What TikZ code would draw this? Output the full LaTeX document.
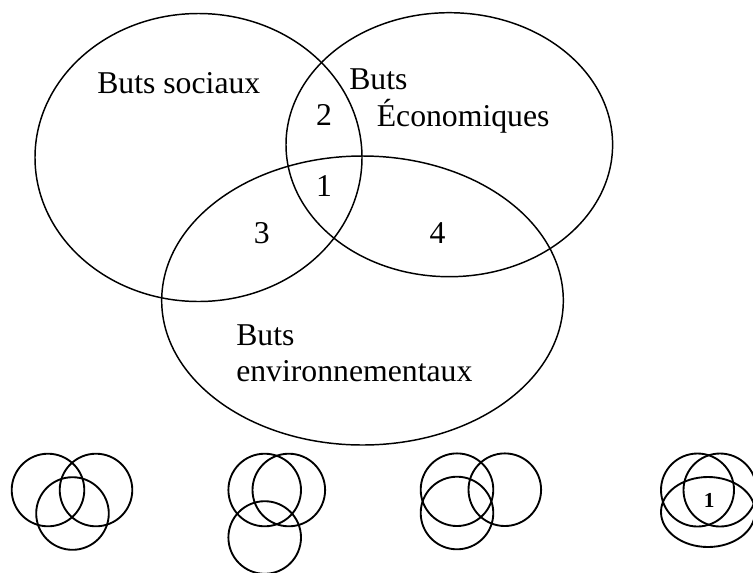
\documentclass[tikz,border=0pt]{standalone}
\usepackage{fontspec}
\setmainfont{Liberation Serif}
\begin{document}
\begin{tikzpicture}[x=0.75pt,y=-0.75pt,
  big/.style={line width=1.1pt},
  small/.style={line width=1.4pt},
  lbl/.style={inner sep=0pt,anchor=base west,font=\fontsize{23.8}{28}\selectfont},
  num/.style={inner sep=0pt,anchor=base,font=\fontsize{23.8}{28}\selectfont}]
\useasboundingbox (0,0) rectangle (753,572);
% large Venn diagram
\draw[big] (198.5,157.5) ellipse [x radius=163.5, y radius=144];
\draw[big] (449.3,144.7) ellipse [x radius=163.3, y radius=132];
\draw[big] (362.5,300.5) ellipse [x radius=200.8, y radius=144.5];
\node[lbl] (soc) at (97,93) {Buts sociaux};
\node[lbl] (eco1) at (349,89.3) {Buts};
\node[lbl] (eco2) at (376.5,126) {Économiques};
\node[lbl] (env1) at (236,345) {Buts};
\node[lbl] (env2) at (236,381.7) {environnementaux};
\node[num] (n2) at (324,125) {2};
\node[num] (n1) at (324,196.7) {1};
\node[num] (n3) at (261.7,243.3) {3};
\node[num] (n4) at (437.5,243.3) {4};
% small diagrams
\draw[small] (48,490) circle [radius=36.3];
\draw[small] (96,490) circle [radius=36.3];
\draw[small] (72.5,513.5) circle [radius=36.3];
\draw[small] (264.7,490) circle [radius=36.3];
\draw[small] (288.8,490) circle [radius=36.3];
\draw[small] (264.7,537.5) circle [radius=36.3];
\draw[small] (457,489.7) circle [radius=36.3];
\draw[small] (504.8,489.7) circle [radius=36.3];
\draw[small] (457,513) circle [radius=36.3];
\draw[small] (697.5,490) circle [radius=36.5];
\draw[small] (720,490) circle [radius=36.5];
\draw[small] (708,512) ellipse [x radius=47, y radius=35];
\node[inner sep=0pt,anchor=base,font=\fontsize{16}{18}\selectfont\bfseries] (s1) at (709.3,507.5) {1};
\end{tikzpicture}
\end{document}
